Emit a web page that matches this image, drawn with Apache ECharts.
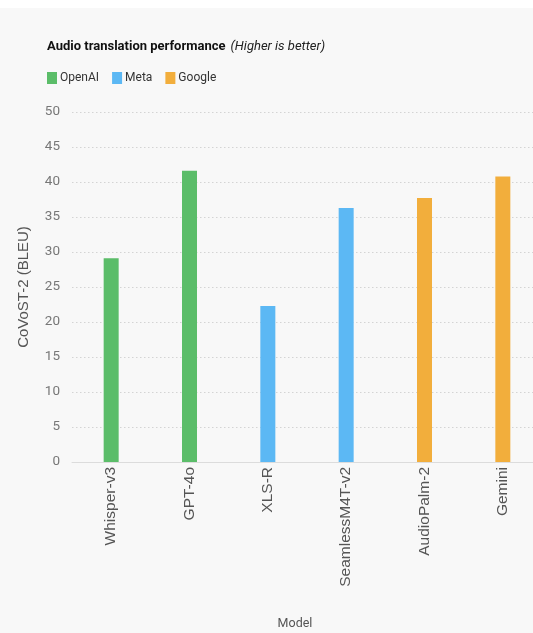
<!DOCTYPE html>
<html>
<head>
<meta charset="utf-8">
<script src="https://cdn.jsdelivr.net/npm/echarts@6/dist/echarts.min.js"></script>
<style>
html,body{margin:0;padding:0;background:#fff;overflow:hidden;}
#wrap{position:absolute;left:0;top:8px;width:533px;height:625px;background:#f8f8f8;overflow:hidden;}
#chart{width:533px;height:625px;}
</style>
</head>
<body>
<div id="wrap"><div id="chart"></div></div>
<script>
const categories = ['Whisper-v3', 'GPT-4o', 'XLS-R', 'SeamlessM4T-v2', 'AudioPalm-2', 'Gemini'];
const openaiValues = [29.1, 41.6, null, null, null, null];
const metaValues = [null, null, 22.3, 36.3, null, null];
const googleValues = [null, null, null, null, 37.7, 40.8];
const yTicks = [0, 5, 10, 15, 20, 25, 30, 35, 40, 45, 50];

const NARROW = 'Roboto, "Liberation Sans", sans-serif';
const ARIAL = '"Liberation Sans", Arial, sans-serif';
const chart = echarts.init(document.getElementById('chart'));
const mk = (name, data, color) => ({
  name, type: 'bar', stack: 'all', data, barWidth: 15,
  itemStyle: { color }
});
chart.setOption({
  animation: false,
  backgroundColor: '#f8f8f8',
  title: {
    left: 47, top: 30, padding: 0,
    text: '{b|Audio translation performance} {i|(Higher is better)}',
    textStyle: {
      rich: {
        b: { fontFamily: NARROW, fontWeight: 'bold', fontSize: 13, color: '#111' },
        i: { fontFamily: NARROW, fontWeight: 'normal', fontStyle: 'italic', fontSize: 13, color: '#222' }
      }
    }
  },
  legend: {
    left: 47, top: 64, padding: 0,
    itemWidth: 10, itemHeight: 12, itemGap: 13,
    icon: 'rect',
    textStyle: { fontFamily: NARROW, fontSize: 12, color: '#333', padding: [0, 0, 0, -2] }
  },
  grid: { left: 72, right: -9, top: 104, bottom: 171, containLabel: false, outerBoundsMode: 'none' },
  xAxis: {
    type: 'category', data: categories,
    name: 'Model', nameLocation: 'middle', nameGap: 155,
    nameTextStyle: { fontFamily: NARROW, fontSize: 12.5, color: '#555', padding: [0, 24, 0, 0] },
    axisLine: { lineStyle: { color: '#dcdcdc' } },
    axisTick: { show: false },
    axisLabel: { rotate: 90, margin: 5, fontFamily: ARIAL, fontSize: 15.5, color: '#555' }
  },
  yAxis: {
    type: 'value', min: yTicks[0], max: yTicks[yTicks.length - 1], interval: 5,
    name: 'CoVoST-2 (BLEU)', nameLocation: 'middle', nameGap: 41,
    nameTextStyle: { fontFamily: ARIAL, fontSize: 15, color: '#555' },
    axisLine: { show: false }, axisTick: { show: false },
    axisLabel: { margin: 12, fontFamily: NARROW, fontSize: 13.5, color: '#777' },
    splitLine: { lineStyle: { color: '#d4d4d4', type: [1.5, 2.5] } }
  },
  series: [
    mk('OpenAI', openaiValues, '#5bbd69'),
    mk('Meta', metaValues, '#5cb8f4'),
    mk('Google', googleValues, '#f2ae3c')
  ]
});
</script>
</body>
</html>
